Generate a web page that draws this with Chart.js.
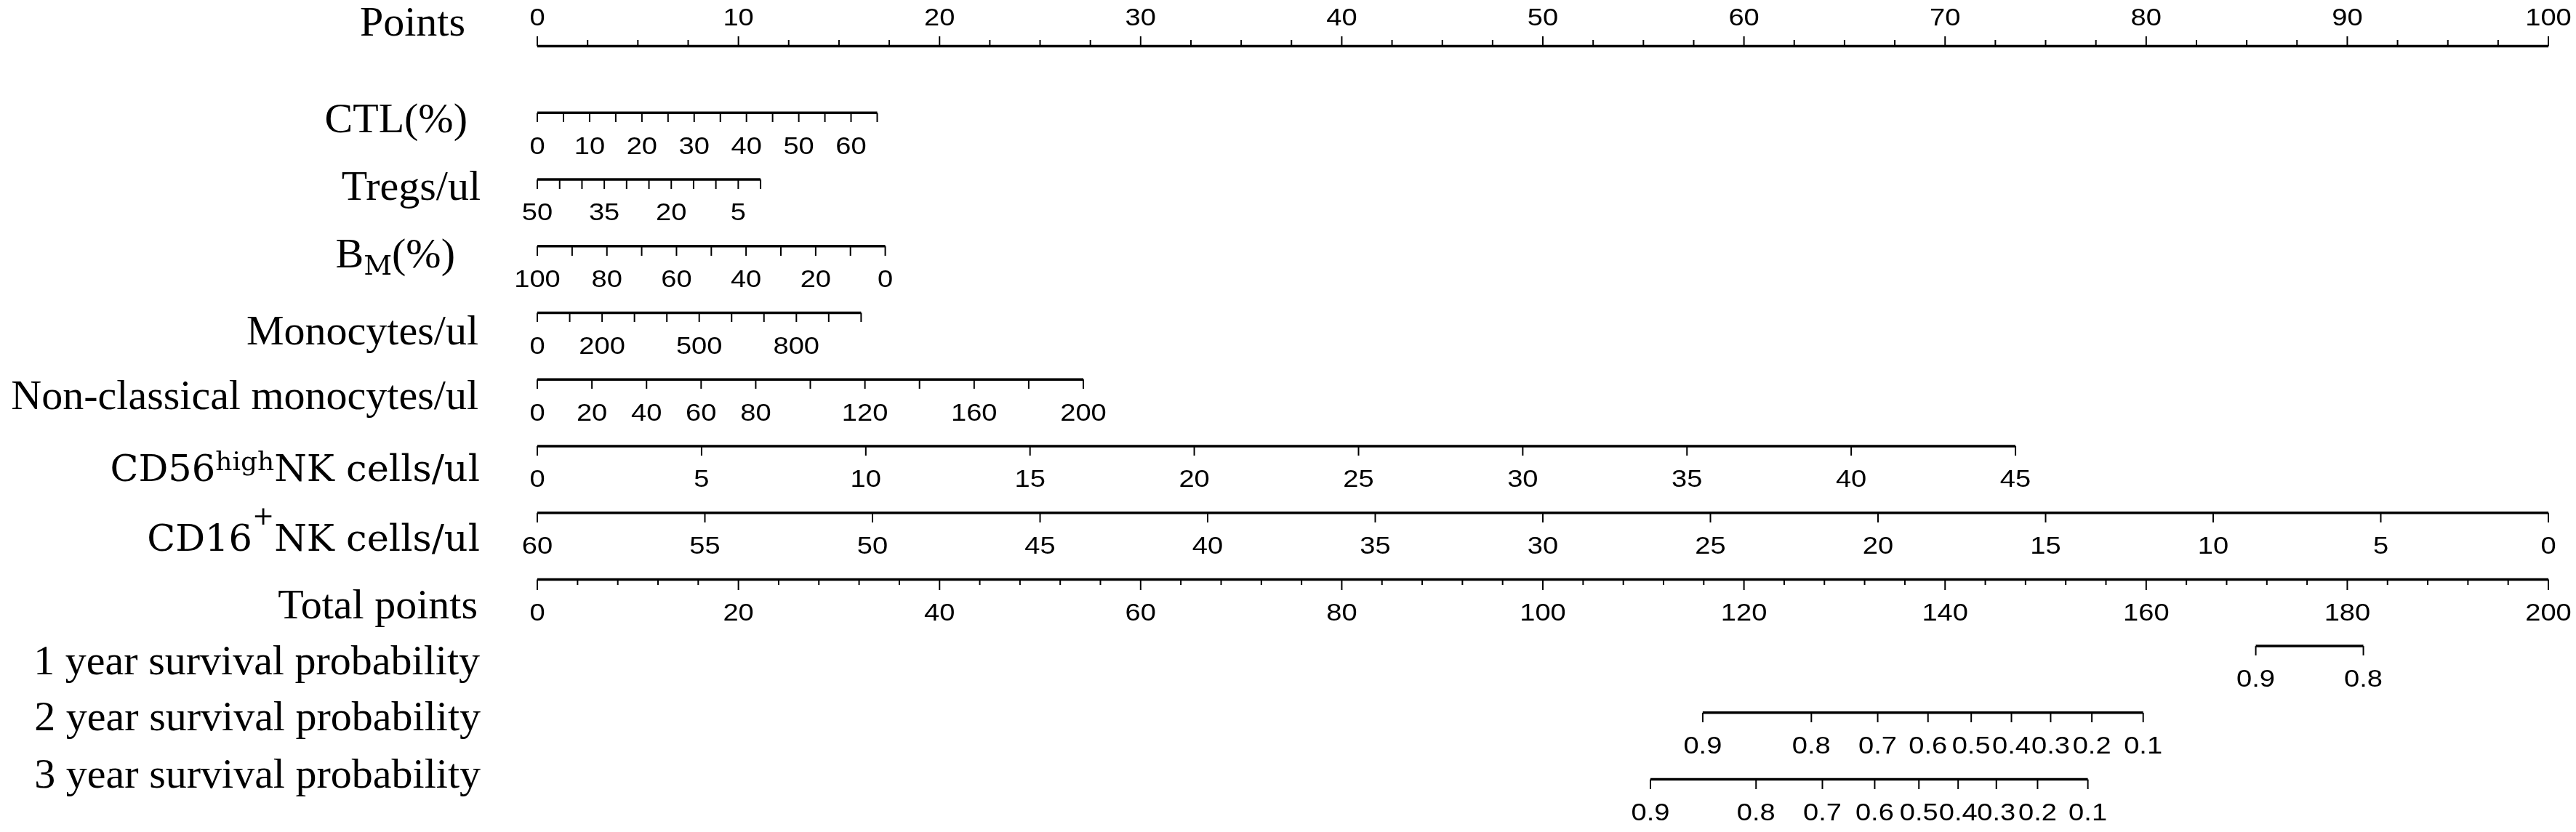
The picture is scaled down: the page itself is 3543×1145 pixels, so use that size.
<!DOCTYPE html>
<html>
<head>
<meta charset="utf-8">
<script src="https://cdn.jsdelivr.net/npm/chart.js@4.4.1/dist/chart.umd.min.js"></script>
<style>
html,body{margin:0;padding:0;background:#ffffff;}
#wrap{width:3543px;height:1145px;position:relative;}
</style>
</head>
<body>
<div id="wrap"><canvas id="c" width="3543" height="1145"></canvas></div>
<script>
// ---------------- DATA ----------------
const rowTitles = ['Points','CTL(%)','Tregs/ul','B_M(%)','Monocytes/ul','Non-classical monocytes/ul',
  'CD56^high NK cells/ul','CD16^+ NK cells/ul','Total points',
  '1 year survival probability','2 year survival probability','3 year survival probability'];

// Points scale (0-100)
const pointsMajor = [0,10,20,30,40,50,60,70,80,90,100];
const pointsMinorStep = 2.5;

// Predictors: tick values, printed labels, and value -> points anchors
const ctlTicks   = [0,5,10,15,20,25,30,35,40,45,50,55,60,65];
const ctlLabels  = [0,10,20,30,40,50,60];
const ctlValues  = [0,65];   const ctlPoints  = [0,16.9];

const tregTicks  = [50,45,40,35,30,25,20,15,10,5,0];
const tregLabels = [50,35,20,5];
const tregValues = [50,0];   const tregPoints = [0,11.1];

const bmTicks    = [100,90,80,70,60,50,40,30,20,10,0];
const bmLabels   = [100,80,60,40,20,0];
const bmValues   = [100,0];  const bmPoints   = [0,17.3];

const monoTicks  = [0,100,200,300,400,500,600,700,800,900,1000];
const monoLabels = [0,200,500,800];
const monoValues = [0,1000]; const monoPoints = [0,16.1];

const ncmTicks   = [0,20,40,60,80,100,120,140,160,180,200];
const ncmLabels  = [0,20,40,60,80,120,160,200];
const ncmValues  = [0,200];  const ncmPoints  = [0,27.15];

const cd56Ticks  = [0,5,10,15,20,25,30,35,40,45];
const cd56Labels = [0,5,10,15,20,25,30,35,40,45];
const cd56Values = [0,45];   const cd56Points = [0,73.5];

const cd16Ticks  = [60,55,50,45,40,35,30,25,20,15,10,5,0];
const cd16Labels = [60,55,50,45,40,35,30,25,20,15,10,5,0];
const cd16Values = [60,0];   const cd16Points = [0,100];

// Total points scale (0-200)
const totalMajor = [0,20,40,60,80,100,120,140,160,180,200];
const totalMinorStep = 4;

// Survival probabilities and their total-points positions
const surv1Labels = ['0.9','0.8'];
const surv1Total  = [170.9,181.6];
const surv2Labels = ['0.9','0.8','0.7','0.6','0.5','0.4','0.3','0.2','0.1'];
const surv2Total  = [115.9,126.7,133.3,138.3,142.6,146.6,150.5,154.6,159.7];
const surv3Labels = ['0.9','0.8','0.7','0.6','0.5','0.4','0.3','0.2','0.1'];
const surv3Total  = [110.7,121.2,127.8,133.0,137.4,141.3,145.1,149.2,154.2];

// ---------------- STYLE / LAYOUT ----------------
const SERIF = '"Liberation Serif","Times New Roman",serif';
const MATH  = '"DejaVu Serif",serif';
const TITLE_SIZE = 58;
const TICK_FONT = '34px "Liberation Sans", Arial, sans-serif';
const TICK_STRETCH = 1.12;
const Y_MIN = -0.6375, Y_MAX = 11.7347;
const LINE_W = 3.5;

const titleParts = [
  [{t:'Points'}],
  [{t:'CTL(%)'}],
  [{t:'Tregs/ul'}],
  [{t:'B'},{t:'M',f:MATH,s:38,dy:10},{t:'(%)'}],
  [{t:'Monocytes/ul'}],
  [{t:'Non-classical monocytes/ul'}],
  [{t:'CD56',f:MATH,s:51},{t:'high',f:MATH,s:36,dy:-15},{t:'NK cells/ul',f:MATH,s:51}],
  [{t:'CD16',f:MATH,s:51},{t:'+',f:MATH,s:36,dy:-36},{t:'NK cells/ul',f:MATH,s:51}],
  [{t:'Total points'}],
  [{t:'1 year survival probability'}],
  [{t:'2 year survival probability'}],
  [{t:'3 year survival probability'}]
];
const titleRight = [640,643,661,626,658,658,660,660,657,660,661,661];
const titleDy    = [-14,27,28,29,44,41,48,52,54,39,24,11];

// ---------------- BUILD ----------------
function mapLin(v, vals, pts){ return pts[0] + (v - vals[0]) * (pts[1] - pts[0]) / (vals[1] - vals[0]); }

function tickImage(len, up){
  const c = document.createElement('canvas');
  c.width = 4; c.height = len * 2;
  const g = c.getContext('2d');
  g.fillStyle = '#000';
  g.fillRect(1, up ? 0 : len, 2, len);
  return c;
}
const tickDown = tickImage(13, false);
const tickUpMajor = tickImage(13, true);
const tickUpMinor = tickImage(8, true);
const tickDownMajor = tickImage(15, false);
const tickDownMinor = tickImage(8, false);

const datasets = [];
function addLine(row, axis, x0, x1){
  datasets.push({data:[{x:x0,y:row},{x:x1,y:row}], showLine:true, borderColor:'#000', backgroundColor:'#000',
    borderWidth:LINE_W, borderCapStyle:'butt', pointRadius:0, xAxisID:axis, clip:false});
}
function addTicks(row, axis, xs, img){
  datasets.push({data:xs.map(x=>({x:x,y:row})), showLine:false, pointStyle:img, pointRadius:1,
    borderColor:'#000', backgroundColor:'#000', xAxisID:axis, clip:false});
}
const labelRows = []; // {row, axis, up, xs, texts}

// Row 0: Points
const pointsMinor = [];
for (let v = 0; v <= 100 + 1e-9; v += pointsMinorStep) if (!pointsMajor.includes(v)) pointsMinor.push(v);
addLine(0,'x',0,100);
addTicks(0,'x',pointsMajor,tickUpMajor);
addTicks(0,'x',pointsMinor,tickUpMinor);
labelRows.push({row:0, axis:'x', up:true, xs:pointsMajor, texts:pointsMajor.map(String)});

// Predictor rows
const predictors = [
  {row:1, ticks:ctlTicks,  labels:ctlLabels,  vals:ctlValues,  pts:ctlPoints},
  {row:2, ticks:tregTicks, labels:tregLabels, vals:tregValues, pts:tregPoints},
  {row:3, ticks:bmTicks,   labels:bmLabels,   vals:bmValues,   pts:bmPoints},
  {row:4, ticks:monoTicks, labels:monoLabels, vals:monoValues, pts:monoPoints},
  {row:5, ticks:ncmTicks,  labels:ncmLabels,  vals:ncmValues,  pts:ncmPoints},
  {row:6, ticks:cd56Ticks, labels:cd56Labels, vals:cd56Values, pts:cd56Points},
  {row:7, ticks:cd16Ticks, labels:cd16Labels, vals:cd16Values, pts:cd16Points}
];
predictors.forEach(p=>{
  const xs = p.ticks.map(v=>mapLin(v,p.vals,p.pts));
  addLine(p.row,'x',Math.min(...xs),Math.max(...xs));
  addTicks(p.row,'x',xs,tickDown);
  labelRows.push({row:p.row, axis:'x', up:false, xs:p.labels.map(v=>mapLin(v,p.vals,p.pts)), texts:p.labels.map(String)});
});

// Row 8: Total points
const totalMinor = [];
for (let v = 0; v <= 200 + 1e-9; v += totalMinorStep) if (!totalMajor.includes(v)) totalMinor.push(v);
addLine(8,'xt',0,200);
addTicks(8,'xt',totalMajor,tickDownMajor);
addTicks(8,'xt',totalMinor,tickDownMinor);
labelRows.push({row:8, axis:'xt', up:false, xs:totalMajor, texts:totalMajor.map(String)});

// Survival rows
[[9,surv1Total,surv1Labels],[10,surv2Total,surv2Labels],[11,surv3Total,surv3Labels]].forEach(([row,tot,lab])=>{
  addLine(row,'xt',Math.min(...tot),Math.max(...tot));
  addTicks(row,'xt',tot,tickDown);
  labelRows.push({row:row, axis:'xt', up:false, xs:tot, texts:lab});
});

// ---------------- TEXT PLUGIN ----------------
function drawTickLabel(ctx, text, cx, cy){
  ctx.save();
  ctx.translate(cx, cy);
  ctx.scale(TICK_STRETCH, 1);
  ctx.textAlign = 'center';
  ctx.fillText(text, 0, 0);
  ctx.restore();
}
const textPlugin = {
  id:'nomoText',
  afterDatasetsDraw(chart){
    const ctx = chart.ctx, ys = chart.scales.y;
    ctx.save();
    ctx.fillStyle = '#000';
    // tick labels
    ctx.font = TICK_FONT; ctx.textBaseline = 'middle';
    labelRows.forEach(r=>{
      const sc = chart.scales[r.axis];
      const py = ys.getPixelForValue(r.row) + (r.up ? -38 : 47);
      r.xs.forEach((x,i)=> drawTickLabel(ctx, r.texts[i], sc.getPixelForValue(x), py));
    });
    // row titles (rich text, right aligned)
    ctx.textAlign = 'left'; ctx.textBaseline = 'alphabetic';
    titleParts.forEach((parts,i)=>{
      const base = ys.getPixelForValue(i) + titleDy[i];
      const fonts = parts.map(p=> (p.s||TITLE_SIZE)+'px '+(p.f||SERIF));
      let total = 0;
      const widths = parts.map((p,k)=>{ ctx.font = fonts[k]; const w = ctx.measureText(p.t).width; total += w; return w; });
      let x = titleRight[i] - total;
      parts.forEach((p,k)=>{ ctx.font = fonts[k]; ctx.fillText(p.t, x, base + (p.dy||0)); x += widths[k]; });
    });
    ctx.restore();
  }
};

new Chart(document.getElementById('c'), {
  type:'scatter',
  data:{datasets},
  options:{
    responsive:false, animation:false, events:[], devicePixelRatio:1,
    layout:{padding:{left:739,right:38,top:0,bottom:0}},
    scales:{
      x:{type:'linear',axis:'x',min:0,max:100,display:false},
      xt:{type:'linear',axis:'x',min:0,max:200,display:false},
      y:{type:'linear',min:Y_MIN,max:Y_MAX,reverse:true,display:false}
    },
    plugins:{legend:{display:false},tooltip:{enabled:false}}
  },
  plugins:[textPlugin]
});
</script>
</body>
</html>
